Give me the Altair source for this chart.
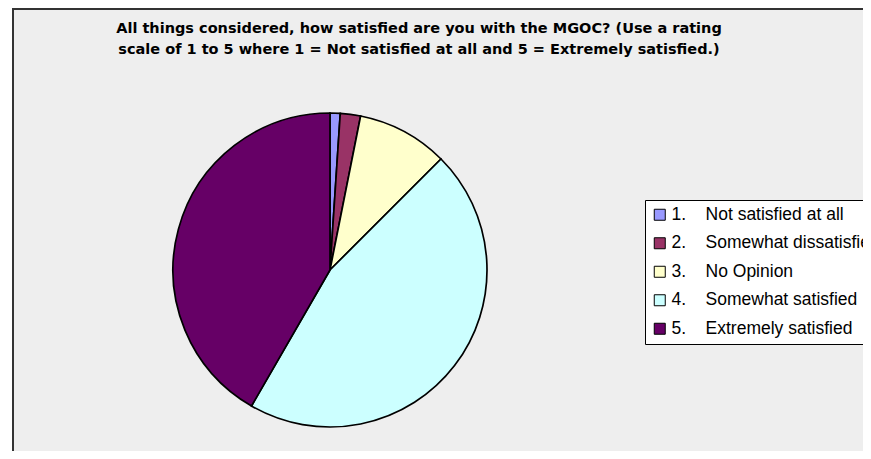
import altair as alt
import pandas as pd

labels = [
    "1.\u00a0\u00a0\u00a0\u00a0Not satisfied at all",
    "2.\u00a0\u00a0\u00a0\u00a0Somewhat dissatisfied",
    "3.\u00a0\u00a0\u00a0\u00a0No Opinion",
    "4.\u00a0\u00a0\u00a0\u00a0Somewhat satisfied",
    "5.\u00a0\u00a0\u00a0\u00a0Extremely satisfied",
]
counts = [1, 2, 9, 44, 40]
colors = ["#9999FF", "#993366", "#FFFFCC", "#CCFFFF", "#660066"]
title_lines = [
    "All things considered, how satisfied are you with the MGOC? (Use a rating",
    "scale of 1 to 5 where 1 = Not satisfied at all and 5 = Extremely satisfied.)",
]

W, H = 855, 443

df = pd.DataFrame({"label": labels, "count": counts, "idx": list(range(len(labels)))})
one = pd.DataFrame({"a": [0]})

frame = alt.Chart(one).mark_rect(fill="#EEEEEE", strokeWidth=0).encode(
    x=alt.value(5), x2=alt.value(W), y=alt.value(1), y2=alt.value(H)
)
top_line = alt.Chart(one).mark_rule(color="#333333", strokeWidth=2).encode(
    x=alt.value(4), x2=alt.value(W), y=alt.value(1)
)
left_line = alt.Chart(one).mark_rule(color="#333333", strokeWidth=2).encode(
    x=alt.value(5), y=alt.value(0), y2=alt.value(H)
)

title = alt.Chart(one).mark_text(
    text=title_lines,
    font="DejaVu Sans",
    fontWeight="bold",
    fontSize=14.5,
    lineHeight=21,
    align="center",
    baseline="middle",
    color="black",
).encode(x=alt.value(411), y=alt.value(21))

pie = alt.Chart(df).mark_arc(
    radius=157, stroke="black", strokeWidth=1.7
).encode(
    theta=alt.Theta("count:Q", stack=True),
    order=alt.Order("idx:Q", sort="ascending"),
    color=alt.Color(
        "label:N",
        sort=labels,
        scale=alt.Scale(domain=labels, range=colors),
        legend=alt.Legend(
            title=None,
            orient="none",
            legendX=637,
            legendY=192,
            strokeColor="black",
            fillColor="white",
            padding=6,
            symbolType="square",
            symbolSize=121,
            symbolStrokeColor="black",
            symbolStrokeWidth=1,
            labelFont="Liberation Sans",
            labelFontSize=17.5,
            labelColor="black",
            labelOffset=3,
            rowPadding=9.5,
            labelLimit=600,
        ),
    ),
    x=alt.value(322),
    y=alt.value(262),
)

chart = alt.layer(frame, top_line, left_line, title, pie).properties(
    width=W,
    height=H,
    autosize=alt.AutoSizeParams(type="none"),
    padding=0,
    background="white",
).configure_view(strokeWidth=0)

chart.save("out.html", embed_options={"renderer": "svg", "actions": False})
